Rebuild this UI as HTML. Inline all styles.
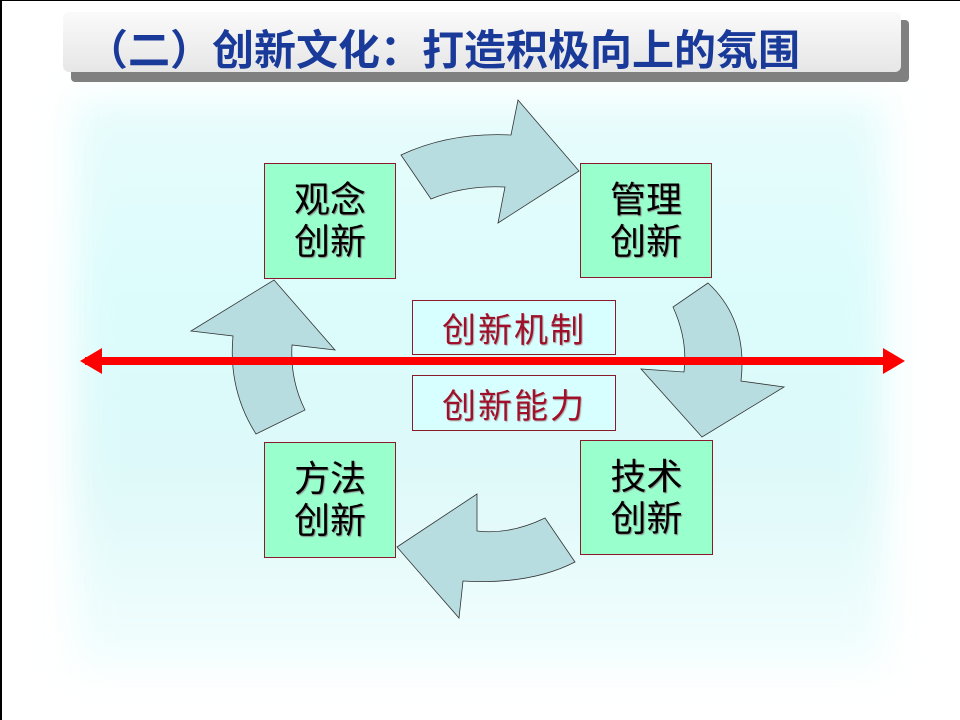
<!DOCTYPE html>
<html><head><meta charset="utf-8"><style>
html,body{margin:0;padding:0}
body{width:960px;height:720px;position:relative;background:#fff;overflow:hidden;font-family:"Liberation Sans","Noto Sans CJK SC",sans-serif}
.bg{position:absolute;left:75px;top:100px;width:810px;height:570px;background:linear-gradient(#e8fcfc 0%,#dcfcfc 35%,#def9f9 65%,#f4fefe 100%);filter:blur(18px)}
.sh{position:absolute;left:71px;top:20px;width:838px;height:62px;background:#808080;border-radius:4px}
.bar{position:absolute;left:63px;top:12px;width:838px;height:60px;background:linear-gradient(#fafafa,#e6e6e6);border-radius:6px}
.title{position:absolute;left:86px;top:17px;font-size:42px;font-weight:bold;color:#1a3a9a;letter-spacing:0;white-space:nowrap}
.box{position:absolute;background:#99ffcc;border:1px solid #8b1a2a;font-size:36px;color:#000;text-align:center;line-height:42px;display:flex;align-items:center;justify-content:center;text-shadow:1px 1px 1px #888}
.cb{position:absolute;border:1px solid #8b1a2a;background:#d8ffff;font-size:34px;color:#a0102a;text-align:center;display:flex;align-items:center;justify-content:center;text-shadow:1px 1px 1px #aaa;letter-spacing:2px}
</style></head><body>
<div style="position:absolute;left:0;top:0;width:2px;height:720px;background:#000"></div>
<div style="position:absolute;left:0;top:0;width:960px;height:1px;background:#000"></div>
<div class="bg"></div>
<div class="sh"></div><div class="bar"></div>
<div class="title">（二）创新文化：打造积极向上的氛围</div>
<svg width="960" height="720" style="position:absolute;left:0;top:0">
<g fill="#b8dde0" stroke="#333" stroke-width="0.8">
<path d="M401,155 L431,199 Q465,185 505,187 L498,223 L579,171 L518,100 L511,135 Q450,132 401,155 Z"/>
<path d="M708,283 L673,307 Q688,340 684,372 L641,369 L702,437 L784,387 L741,381 Q748,320 708,283 Z"/>
<path d="M575,562 L545,518 Q510,535 477,531 L477,494 L397,547 L459,618 L463,581 Q530,585 575,562 Z"/>
<path d="M256,434 L305,410 Q290,380 292,345 L335,350 L274,280 L191,331 L233,336 Q228,390 256,434 Z"/>
</g>
<rect x="85" y="357" width="800" height="8" fill="#f00"/>
<polygon points="80,361 102,348 102,374" fill="#f00"/>
<polygon points="905,361 883,348 883,374" fill="#f00"/>
</svg>
<div class="box" style="left:264px;top:163px;width:130px;height:114px">观念<br>创新</div>
<div class="box" style="left:580px;top:163px;width:130px;height:113px">管理<br>创新</div>
<div class="box" style="left:264px;top:442px;width:130px;height:114px">方法<br>创新</div>
<div class="box" style="left:580px;top:440px;width:131px;height:113px">技术<br>创新</div>
<div class="cb" style="left:412px;top:300px;width:202px;height:53px">创新机制</div>
<div class="cb" style="left:412px;top:375px;width:202px;height:54px">创新能力</div>
</body></html>
